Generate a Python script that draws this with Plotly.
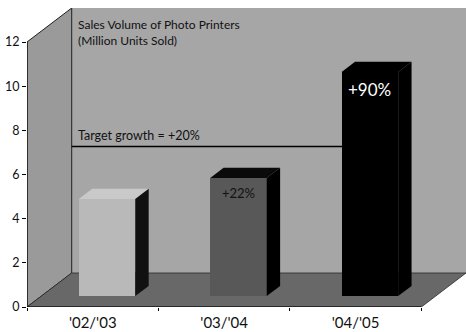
import plotly.graph_objects as go

# Sales volume of photo printers, million units sold
periods = ["'02/'03", "'03/'04", "'04/'05"]
sales = [4.4, 5.35, 10.15]
growth_labels = ["", "+22%", "+90%"]
target_growth = 0.20
target_label = "Target growth = +20%"
y_ticks = [0, 2, 4, 6, 8, 10, 12]
title_lines = ["Sales Volume of Photo Printers", "(Million Units Sold)"]

# Styling of the pseudo-3D box
DX, DY = 0.34, 1.54          # depth offset of the back wall, in axis units
F0, F1 = 0.32, 0.62          # front / back depth fraction of the bars
FT = 0.55                    # depth fraction of the target line
W = 0.43                     # bar width
Y_TOP = 12
front_cols = ["#b9b9b9", "#585858", "#000000"]
top_cols = ["#c9c9c9", "#0a0a0a", "#000000"]
side_cols = ["#111111", "#000000", "#000000"]
FONT = "Lato"

n = len(periods)
x_lo, x_hi = -0.5, n - 0.5
target_level = sales[1] * (1 + target_growth)


def poly(xs, ys):
    pts = list(zip(xs, ys))
    return "M " + " L ".join(f"{x},{y}" for x, y in pts) + " Z"


shapes = []
# back wall
shapes.append(dict(type="path", xref="x", yref="y", layer="below",
                   path=poly([x_lo + DX, x_hi + DX, x_hi + DX, x_lo + DX],
                             [DY, DY, Y_TOP + DY, Y_TOP + DY]),
                   fillcolor="#a6a6a6", line=dict(width=0)))
# left wall
shapes.append(dict(type="path", xref="x", yref="y", layer="below",
                   path=poly([x_lo, x_lo, x_lo + DX, x_lo + DX],
                             [0, Y_TOP, Y_TOP + DY, DY]),
                   fillcolor="#9a9a9a", line=dict(color="#1e1e1e", width=1)))
# floor
shapes.append(dict(type="path", xref="x", yref="y", layer="below",
                   path=poly([x_lo, x_hi, x_hi + DX, x_lo + DX],
                             [0, 0, DY, DY]),
                   fillcolor="#686868", line=dict(color="#2a2a2a", width=0.8)))
# axis lines
shapes.append(dict(type="line", xref="x", yref="y", layer="below",
                   x0=x_lo, x1=x_lo, y0=0, y1=Y_TOP,
                   line=dict(color="#000000", width=1)))
shapes.append(dict(type="line", xref="x", yref="y", layer="below",
                   x0=x_lo, x1=x_hi, y0=0, y1=0,
                   line=dict(color="#000000", width=1)))
# target growth line
shapes.append(dict(type="line", xref="x", yref="y", layer="below",
                   x0=x_lo + DX, x1=n - 1, y0=target_level + FT * DY,
                   y1=target_level + FT * DY,
                   line=dict(color="#000000", width=1.6)))

fig = go.Figure()

# front faces of the bars
bar_x = [i + F0 * DX for i in range(n)]
bar_base = F0 * DY
fig.add_trace(go.Bar(x=bar_x, y=sales, base=bar_base, width=W,
                     marker=dict(color=front_cols, line=dict(width=0)),
                     hoverinfo="skip", showlegend=False))

# top and side faces
sdx, sdy = (F1 - F0) * DX, (F1 - F0) * DY
for i, v in enumerate(sales):
    x0 = bar_x[i] - W / 2
    x1 = bar_x[i] + W / 2
    yb = bar_base
    yt = bar_base + v
    fig.add_trace(go.Scatter(
        x=[x0, x1, x1 + sdx, x0 + sdx, x0], y=[yt, yt, yt + sdy, yt + sdy, yt],
        fill="toself", fillcolor=top_cols[i], mode="lines",
        line=dict(width=0), hoverinfo="skip", showlegend=False))
    fig.add_trace(go.Scatter(
        x=[x1, x1, x1 + sdx, x1 + sdx, x1], y=[yb, yt, yt + sdy, yb + sdy, yb],
        fill="toself", fillcolor=side_cols[i], mode="lines",
        line=dict(width=0), hoverinfo="skip", showlegend=False))

annotations = []
# growth labels on the bar fronts
label_cols = ["#000000", "#111111", "#ffffff"]
label_sizes = [13, 13, 17]
for i, txt in enumerate(growth_labels):
    if not txt:
        continue
    annotations.append(dict(x=bar_x[i], y=bar_base + sales[i], xref="x", yref="y",
                            text=txt, showarrow=False, xanchor="center",
                            yanchor="top", yshift=-5,
                            font=dict(family=FONT, size=label_sizes[i],
                                      color=label_cols[i])))
# target label
annotations.append(dict(x=x_lo + DX, y=target_level + FT * DY, xref="x", yref="y",
                        text=target_label, showarrow=False, xanchor="left",
                        yanchor="bottom", xshift=4, yshift=2,
                        font=dict(family=FONT, size=12.5, color="#111111")))
# chart title inside the box
annotations.append(dict(x=x_lo + DX, y=Y_TOP + DY, xref="x", yref="y",
                        text="<br>".join(title_lines), showarrow=False,
                        xanchor="left", yanchor="top", align="left",
                        xshift=4, yshift=-7,
                        font=dict(family=FONT, size=12, color="#111111")))

fig.update_layout(
    width=466, height=332,
    margin=dict(l=27, r=0, t=8, b=25, autoexpand=False),
    paper_bgcolor="#ffffff", plot_bgcolor="#ffffff",
    shapes=shapes, annotations=annotations,
    bargap=0,
    xaxis=dict(range=[x_lo, x_hi + DX], showgrid=False, zeroline=False,
               showline=False, tickmode="array", tickvals=list(range(n)),
               ticktext=periods, ticks="", automargin=False,
               ticklabelstandoff=5,
               tickfont=dict(family=FONT, size=15, color="#111111"),
               minor=dict(tickmode="array",
                          tickvals=[x_lo + k for k in range(n + 1)],
                          ticks="outside", ticklen=3, tickcolor="#000000",
                          showgrid=False)),
    yaxis=dict(range=[0, Y_TOP + DY], showgrid=False, zeroline=False,
               showline=False, tickmode="array", tickvals=y_ticks,
               ticks="outside", ticklen=4, tickcolor="#000000",
               automargin=False,
               tickfont=dict(family=FONT, size=12.5, color="#111111")),
)

fig.write_html("out.html")
